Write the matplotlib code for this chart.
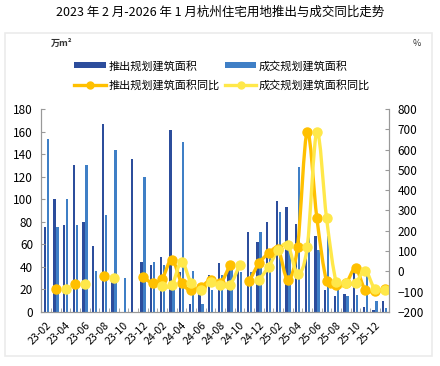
import numpy as np
import matplotlib.pyplot as plt
from matplotlib.path import Path
from matplotlib.patches import PathPatch, Rectangle
from matplotlib.lines import Line2D

plt.rcParams['font.family'] = ['Noto Sans CJK SC', 'DejaVu Sans']

# months 2023-02 .. 2026-01
months = ["23-02", "23-03", "23-04", "23-05", "23-06", "23-07", "23-08", "23-09",
          "23-10", "23-11", "23-12", "24-01", "24-02", "24-03", "24-04", "24-05",
          "24-06", "24-07", "24-08", "24-09", "24-10", "24-11", "24-12", "25-01",
          "25-02", "25-03", "25-04", "25-05", "25-06", "25-07", "25-08", "25-09",
          "25-10", "25-11", "25-12", "26-01"]

# 万m2
launch_area = [75, 100, 77, 130, 80, 58, 167, 30, 0, 136, 44, 42,
               49, 161, 35, 7, 18, 33, 43, 37, 39, 71, 62, 80,
               98, 93, 78, 55, 67, 19, 14, 16, 35, 4, 2, 10]
deal_area = [153, 75, 100, 77, 130, 36, 86, 144, 30, 0, 120, 44,
             42, 25, 151, 36, 7, 19, 33, 40, 35, 35, 71, 54,
             89, 62, 129, 78, 55, 67, 19, 14, 15, 33, 10, 3]

# %
nan = np.nan
launch_yoy = [nan, -87, nan, -65, nan, nan, -22, nan, nan, nan, -27, -57,
              -36, 58, -57, -93, -77, -44, -60, 30, nan, -50, 39, 88,
              108, -42, 121, 688, 261, -47, -68, -60, 14, -93, -97, -89]
deal_yoy = [nan, nan, -86, nan, -65, nan, nan, -32, nan, nan, nan, nan,
            -73, -68, 47, -60, -93, -52, -68, -68, 30, nan, -44, 22,
            104, 129, -11, 121, 688, 261, -52, -60, -57, 3, -89, -93]

dark = '#2c4d9c'
light = '#3f7fc6'
orange = '#ffc000'
yellow = '#ffe84a'


def smooth_path(x, y):
    # bezier curve through the points, broken where there is no value
    x = np.asarray(x, float)
    y = np.asarray(y, float)
    ok = ~np.isnan(y)
    verts, codes = [], []
    i, n = 0, len(y)
    while i < n:
        if not ok[i]:
            i += 1
            continue
        j = i
        while j + 1 < n and ok[j + 1]:
            j += 1
        px, py = x[i:j + 1], y[i:j + 1]
        m = len(px)
        if m > 1:
            verts.append((px[0], py[0]))
            codes.append(Path.MOVETO)
            for k in range(m - 1):
                a = max(k - 1, 0)
                b = min(k + 2, m - 1)
                c1 = (px[k] + (px[k + 1] - px[a]) / 6, py[k] + (py[k + 1] - py[a]) / 6)
                c2 = (px[k + 1] - (px[b] - px[k]) / 6, py[k + 1] - (py[b] - py[k]) / 6)
                verts += [c1, c2, (px[k + 1], py[k + 1])]
                codes += [Path.CURVE4] * 3
        i = j + 1
    return Path(verts, codes)


x = np.arange(len(months))

fig = plt.figure(figsize=(4.4, 3.66), dpi=100)
fig.patches.append(Rectangle((5 / 440, 10 / 366), 427 / 440, 323 / 366, zorder=-10,
                             transform=fig.transFigure, fc='white', ec='#ebebeb', lw=1.2))
fig.text(0.5, 1 - 12 / 366, "2023 年 2 月-2026 年 1 月杭州住宅用地推出与成交同比走势",
         ha='center', va='center', fontsize=9)

ax = fig.add_axes([0.094, 0.148, 0.791, 0.554])
ax.patch.set_visible(False)
ax.bar(x - 0.155, launch_area, width=0.24, color=dark, label="推出规划建筑面积")
ax.bar(x + 0.155, deal_area, width=0.24, color=light, label="成交规划建筑面积")
ax.set_xlim(-0.47, len(months) - 0.53)
ax.set_ylim(0, 180)
ax.set_yticks(np.arange(0, 181, 20))

ax2 = ax.twinx()
ax2.patch.set_visible(False)
ax2.set_ylim(-200, 800)
ax2.set_yticks(np.arange(-200, 801, 100))
for vals, col in [(launch_yoy, orange), (deal_yoy, yellow)]:
    ax2.add_patch(PathPatch(smooth_path(x, vals), fc='none', ec=col, lw=2.4, capstyle='round'))
    ax2.plot(x, vals, 'o', color=col, ms=6.5, mec=col)

ax.set_xticks(x[::2])
ax.set_xticklabels(months[::2], rotation=45, ha='right', rotation_mode='anchor')
ax.set_xticks(np.arange(-0.5, len(months), 1), minor=True)
ax.tick_params(axis='x', which='major', length=0, pad=6, labelsize=7.6)
ax.tick_params(axis='x', which='minor', length=3, direction='in', color='#999999')
ax.tick_params(axis='y', direction='in', length=3, color='#999999', labelsize=8.5, pad=6)
ax2.tick_params(axis='y', direction='in', length=3, color='#999999', labelsize=8.5, pad=6)

for a in (ax, ax2):
    a.spines['top'].set_visible(False)
    for s in ('left', 'right', 'bottom'):
        a.spines[s].set_color('#999999')
        a.spines[s].set_linewidth(0.8)

fig.text(51 / 440, 1 - 43 / 366, "万m²", fontsize=6.5, va='center', fontweight='bold', color='#333333')
fig.text(413 / 440, 1 - 44 / 366, "%", fontsize=6.5, va='center', color='#333333')

handles = [Rectangle((0, 0), 1, 1, fc=dark),
           Line2D([], [], color=orange, lw=2.4, marker='o', ms=5),
           Rectangle((0, 0), 1, 1, fc=light),
           Line2D([], [], color=yellow, lw=2.4, marker='o', ms=5)]
labels = ["推出规划建筑面积", "推出规划建筑面积同比", "成交规划建筑面积", "成交规划建筑面积同比"]
fig.legend(handles, labels, ncol=2, loc='upper left', bbox_to_anchor=(70 / 440, 1 - 56 / 366),
           frameon=False, fontsize=8, handlelength=2.8, handleheight=0.5,
           columnspacing=0.5, labelspacing=0.75, handletextpad=0.25, borderaxespad=0)

fig.savefig("out.png", dpi=100)
